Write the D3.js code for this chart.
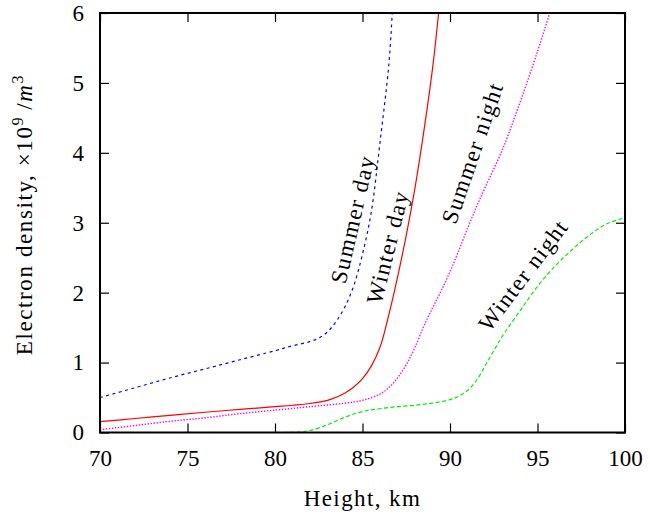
<!DOCTYPE html>
<html>
<head>
<meta charset="utf-8">
<script src="https://cdn.jsdelivr.net/npm/d3@7"></script>
<style>
  html, body { margin: 0; padding: 0; background: #fff; }
  svg text { font-family: "Liberation Serif", "Times New Roman", serif; fill: #000; }
</style>
</head>
<body>
<svg id="chart" width="650" height="517"></svg>
<script>
// Electron density profiles (×10^9 per m^3) against height (km)
const summerDayH = [70, 72, 74, 76, 78, 80, 81, 82, 82.5, 83, 83.5, 84, 84.5, 85, 85.5, 86, 86.5, 86.7];
const summerDayV = [0.50, 0.64, 0.78, 0.91, 1.04, 1.17, 1.24, 1.30, 1.35, 1.44, 1.59, 1.80, 2.10, 2.55, 3.15, 4.15, 5.25, 6.0];

const winterDayH = [70, 72, 74, 76, 78, 80, 81, 82, 83, 83.5, 84, 84.5, 85, 85.5, 86, 86.5, 87, 87.5, 88, 88.5, 89, 89.35];
const winterDayV = [0.155, 0.20, 0.245, 0.29, 0.33, 0.37, 0.39, 0.415, 0.46, 0.505, 0.565, 0.65, 0.77, 0.95, 1.22, 1.68, 2.22, 2.82, 3.50, 4.30, 5.20, 6.0];

const summerNightH = [70, 72, 74, 76, 78, 80, 82, 84, 85, 86, 86.5, 87, 87.5, 88, 88.5, 89, 89.5, 90, 90.5, 91, 91.5, 92, 93, 94, 95, 95.7];
const summerNightV = [0.04, 0.10, 0.16, 0.21, 0.27, 0.32, 0.37, 0.42, 0.46, 0.55, 0.64, 0.78, 0.97, 1.22, 1.52, 1.78, 2.03, 2.30, 2.60, 2.92, 3.22, 3.50, 4.05, 4.72, 5.45, 6.0];

const winterNightH = [80.5, 81.5, 82, 83, 84, 85, 86, 87, 88, 89, 90, 90.5, 91, 91.5, 92, 92.5, 93, 94, 95, 96, 97, 98, 99, 100];
const winterNightV = [0.0, 0.01, 0.03, 0.11, 0.22, 0.30, 0.34, 0.37, 0.39, 0.42, 0.47, 0.52, 0.60, 0.74, 0.95, 1.17, 1.38, 1.74, 2.09, 2.38, 2.62, 2.83, 2.99, 3.07];

const xTicks = [70, 75, 80, 85, 90, 95, 100];
const yTicks = [0, 1, 2, 3, 4, 5, 6];

const seriesNames = ["Summer day", "Winter day", "Summer night", "Winter night"];

const series = [
  { name: seriesNames[0], h: summerDayH, v: summerDayV, color: "#0000ff", width: 1.2, dash: "3,3.5" },
  { name: seriesNames[1], h: winterDayH, v: winterDayV, color: "#ff0000", width: 1.2, dash: null },
  { name: seriesNames[2], h: summerNightH, v: summerNightV, color: "#ff00ff", width: 1.4, dash: "1.4,1.6" },
  { name: seriesNames[3], h: winterNightH, v: winterNightV, color: "#00ee00", width: 1.2, dash: "4,2.5" }
];

// in-plot labels: anchor (data coords) and rotation
const labelPos = [
  { h: 84.45, v: 3.05, angle: -77 },
  { h: 86.45, v: 2.65, angle: -76 },
  { h: 91.3, v: 4.0, angle: -71 },
  { h: 94.2, v: 2.25, angle: -53 }
];

const margin = { left: 100, top: 13, right: 25, bottom: 84.5 };
const W = 650, H = 517;
const iw = W - margin.left - margin.right;
const ih = H - margin.top - margin.bottom;

const svg = d3.select("#chart");
const g = svg.append("g").attr("transform", `translate(${margin.left},${margin.top})`);

const x = d3.scaleLinear().domain([70, 100]).range([0, iw]);
const y = d3.scaleLinear().domain([0, 6]).range([ih, 0]);

svg.append("defs").append("clipPath").attr("id", "plotclip")
  .append("rect").attr("x", 0).attr("y", 0).attr("width", iw).attr("height", ih);

const tick = 9;
const fs = 23;
const fmt = d3.format("d");

// axes: ticks point inward on all four sides
const axisBottomG = g.append("g").attr("transform", `translate(0,${ih})`)
  .call(d3.axisBottom(x).tickValues(xTicks).tickFormat(fmt).tickSizeInner(-tick).tickSizeOuter(0).tickPadding(17));
const axisLeftG = g.append("g")
  .call(d3.axisLeft(y).tickValues(yTicks).tickFormat(fmt).tickSizeInner(-tick).tickSizeOuter(0).tickPadding(16));
const axisTopG = g.append("g")
  .call(d3.axisTop(x).tickValues(xTicks).tickSizeInner(-tick).tickSizeOuter(0).tickFormat(""));
const axisRightG = g.append("g").attr("transform", `translate(${iw},0)`)
  .call(d3.axisRight(y).tickValues(yTicks).tickSizeInner(-tick).tickSizeOuter(0).tickFormat(""));

[axisBottomG, axisLeftG, axisTopG, axisRightG].forEach(a => {
  a.attr("font-family", null).attr("font-size", null);
  a.select(".domain").remove();
  a.selectAll(".tick line").attr("stroke", "#000").attr("stroke-width", 1.2);
  a.selectAll("text").style("font-size", fs + "px").style("font-family", '"Liberation Serif", serif');
});

// curves
const line = d3.line()
  .x(d => x(d[0]))
  .y(d => y(d[1]))
  .curve(d3.curveCatmullRom.alpha(0.5));

const curves = g.append("g").attr("clip-path", "url(#plotclip)");
series.forEach(s => {
  const pts = s.h.map((h, i) => [h, s.v[i]]);
  curves.append("path")
    .datum(pts)
    .attr("d", line)
    .attr("fill", "none")
    .attr("stroke", s.color)
    .attr("stroke-width", s.width)
    .attr("stroke-dasharray", s.dash);
});

// frame
g.append("rect")
  .attr("x", 0).attr("y", 0).attr("width", iw).attr("height", ih)
  .attr("fill", "none").attr("stroke", "#000").attr("stroke-width", 2);

// rotated series labels
series.forEach((s, i) => {
  const p = labelPos[i];
  g.append("text")
    .attr("transform", `translate(${x(p.h)},${y(p.v)}) rotate(${p.angle})`)
    .attr("text-anchor", "middle")
    .attr("dominant-baseline", "central")
    .style("font-size", fs + "px")
    .style("letter-spacing", "1.4px")
    .text(s.name);
});

// axis titles
svg.append("text")
  .attr("x", margin.left + iw / 2)
  .attr("y", 506)
  .attr("text-anchor", "middle")
  .style("font-size", fs + "px")
  .style("letter-spacing", "1.4px")
  .text("Height, km");

const yl = svg.append("text")
  .attr("transform", "translate(32,214.5) rotate(-90)")
  .attr("text-anchor", "middle")
  .style("font-size", fs + "px")
  .style("letter-spacing", "1.6px");
yl.append("tspan").text("Electron density, ×10");
yl.append("tspan").attr("dy", -9).style("font-size", "16px").text("9");
yl.append("tspan").attr("dy", 9).text("\u2009/");
yl.append("tspan").style("font-style", "italic").text("m");
yl.append("tspan").attr("dy", -9).style("font-size", "16px").text("3");
</script>
</body>
</html>
